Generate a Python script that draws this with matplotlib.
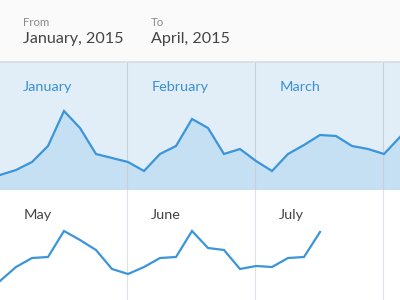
import matplotlib
matplotlib.use("Agg")
import matplotlib.pyplot as plt

plt.rcParams['font.family'] = ['Lato', 'DejaVu Sans']

# daily values, 8 points per month
top_vals = [15, 20, 28, 44, 79, 62, 36, 32, 28, 19, 36, 44, 71, 62, 36, 41,
            29, 19, 36, 45, 55, 54, 44, 41, 36, 53]
bottom_vals = [19, 33, 42, 43, 69, 60, 50, 31, 26, 33, 42, 43, 69, 52, 50, 31,
               34, 33, 42, 43, 68]
top_months = ['January', 'February', 'March']
bottom_months = ['May', 'June', 'July']
month_edges = [7.92, 15.92, 23.92]

line_col = '#3b95d9'

fig = plt.figure(figsize=(4, 3), dpi=100)
fig.patch.set_facecolor('#fafafa')

# header
fig.text(23 / 400, 1 - 23 / 300, 'From', color='#8a8a8a', fontsize=8.2, va='center')
fig.text(23 / 400, 1 - 38.5 / 300, 'January, 2015', color='#444444', fontsize=11.6, va='center')
fig.text(151 / 400, 1 - 23 / 300, 'To', color='#8a8a8a', fontsize=8.2, va='center')
fig.text(151 / 400, 1 - 38.5 / 300, 'April, 2015', color='#444444', fontsize=11.6, va='center')

# top band
ax1 = fig.add_axes([0, 110 / 300, 1, 128 / 300])
ax1.set_facecolor('#e1eef8')
x1 = range(len(top_vals))
ax1.fill_between(x1, top_vals, 0, color='#c6e0f3', zorder=1)
ax1.plot(x1, top_vals, color=line_col, lw=1.6, zorder=3, solid_joinstyle='miter')
for e in month_edges:
    ax1.axvline(e, color='#c5d1db', lw=0.8, zorder=2)
for i, m in enumerate(top_months):
    ax1.text(i * 8 + 1.45, 103, m, color='#3a90d4', fontsize=10.4, va='center')
ax1.set_xlim(0, 25)
ax1.set_ylim(0, 128)
ax1.set_xticks([])
ax1.set_yticks([])
for s in ax1.spines.values():
    s.set_visible(False)
ax1.axhline(128, color='#d8dde2', lw=1.2, clip_on=False)
ax1.axhline(0, color='#c9d3dc', lw=1.0, clip_on=False)

# bottom panel
ax2 = fig.add_axes([0, 0, 1, 110 / 300])
ax2.set_facecolor('white')
x2 = range(len(bottom_vals))
ax2.plot(x2, bottom_vals, color=line_col, lw=1.6, zorder=3, solid_joinstyle='miter')
for e in month_edges:
    ax2.axvline(e, color='#dde2e6', lw=0.8, zorder=2)
for i, m in enumerate(bottom_months):
    ax2.text(i * 8 + 1.45, 85, m, color='#444444', fontsize=10.4, va='center')
ax2.set_xlim(0, 25)
ax2.set_ylim(0, 110)
ax2.set_xticks([])
ax2.set_yticks([])
for s in ax2.spines.values():
    s.set_visible(False)

fig.savefig('out.png', dpi=100, facecolor=fig.get_facecolor())
